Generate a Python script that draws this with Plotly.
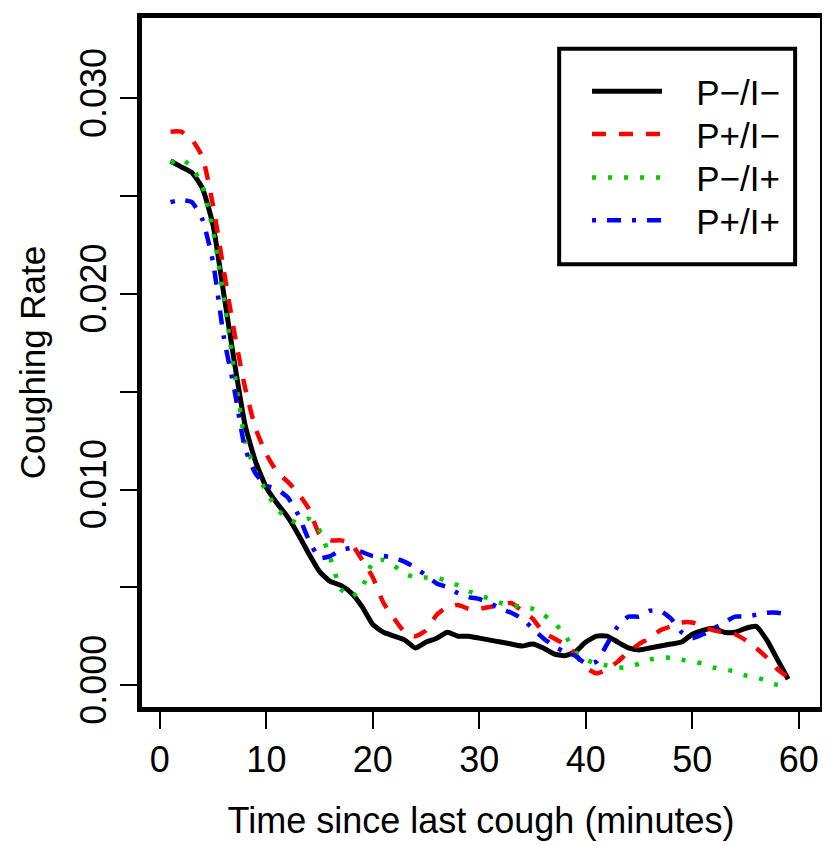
import plotly.graph_objects as go

minutes = list(range(1, 60))

p_minus_i_minus = [0.0268, 0.0265, 0.0262, 0.0254, 0.0235, 0.0200, 0.0165, 0.0133, 0.0114, 0.0101,
                   0.0093, 0.0086, 0.0077, 0.0067, 0.0058, 0.0053, 0.0051, 0.0047, 0.0040, 0.0031,
                   0.0027, 0.0025, 0.0023, 0.0019, 0.0022, 0.0024, 0.0027, 0.0025, 0.0025, 0.0024,
                   0.0023, 0.0022, 0.0021, 0.0020, 0.0021, 0.0019, 0.0016, 0.0015, 0.0017, 0.0022,
                   0.0025, 0.0025, 0.0022, 0.0019, 0.0018, 0.0019, 0.0020, 0.0021, 0.0022, 0.0026,
                   0.0028, 0.0029, 0.0027, 0.0027, 0.0029, 0.0030, 0.0023, 0.0013, 0.0003]

p_plus_i_minus = [0.0283, 0.0283, 0.0279, 0.0270, 0.0245, 0.0212, 0.0180, 0.0152, 0.0131, 0.0118,
                  0.0109, 0.0104, 0.0098, 0.0090, 0.0077, 0.0074, 0.0074, 0.0072, 0.0064, 0.0055,
                  0.0042, 0.0034, 0.0027, 0.0025, 0.0028, 0.0036, 0.0040, 0.0041, 0.0039, 0.0039,
                  0.0040, 0.0041, 0.0042, 0.0038, 0.0034, 0.0027, 0.0024, 0.0021, 0.0016, 0.0009,
                  0.0006, 0.0008, 0.0012, 0.0017, 0.0021, 0.0024, 0.0028, 0.0030, 0.0032, 0.0032,
                  0.0030, 0.0028, 0.0027, 0.0026, 0.0023, 0.0019, 0.0014, 0.0008, 0.0004]

p_minus_i_plus = [0.0267, 0.0269, 0.0265, 0.0255, 0.0232, 0.0198, 0.0160, 0.0125, 0.0109, 0.0099,
                  0.0090, 0.0085, 0.0083, 0.0085, 0.0079, 0.0065, 0.0049, 0.0045, 0.0050, 0.0063,
                  0.0064, 0.0061, 0.0057, 0.0055, 0.0055, 0.0055, 0.0053, 0.0051, 0.0048, 0.0046,
                  0.0044, 0.0042, 0.0041, 0.0040, 0.0039, 0.0036, 0.0032, 0.0026, 0.0017, 0.0013,
                  0.0011, 0.0010, 0.0009, 0.0009, 0.0011, 0.0013, 0.0014, 0.0014, 0.0013, 0.0012,
                  0.0011, 0.0009, 0.0008, 0.0007, 0.0005, 0.0004, 0.0002, 0.0000, -0.0001]

p_plus_i_plus = [0.0247, 0.0248, 0.0247, 0.0238, 0.0216, 0.0178, 0.0151, 0.0121, 0.0108, 0.0102,
                 0.0100, 0.0096, 0.0087, 0.0074, 0.0065, 0.0066, 0.0069, 0.0070, 0.0068, 0.0066,
                 0.0066, 0.0065, 0.0063, 0.0060, 0.0056, 0.0052, 0.0050, 0.0047, 0.0045, 0.0044,
                 0.0042, 0.0039, 0.0037, 0.0034, 0.0029, 0.0024, 0.0020, 0.0017, 0.0015, 0.0011,
                 0.0012, 0.0021, 0.0030, 0.0035, 0.0035, 0.0038, 0.0038, 0.0034, 0.0027, 0.0024,
                 0.0026, 0.0029, 0.0032, 0.0035, 0.0035, 0.0036, 0.0037, 0.0037, 0.0036]

series_names = ["P\u2212/I\u2212", "P+/I\u2212", "P\u2212/I+", "P+/I+"]

x_tick_vals = [0, 10, 20, 30, 40, 50, 60]
x_tick_text = ["0", "10", "20", "30", "40", "50", "60"]
y_tick_vals = [0.000, 0.005, 0.010, 0.015, 0.020, 0.025, 0.030]
y_tick_text = ["0.000", "", "0.010", "", "0.020", "", "0.030"]

x_title = "Time since last cough (minutes)"
y_title = "Coughing Rate"

FONT = "Liberation Sans, Arial, Helvetica, sans-serif"

styles = [
    dict(color="#000000", width=5, dash="solid"),
    dict(color="#FF0000", width=4.5, dash="14px,13px"),
    dict(color="#00CD00", width=4.5, dash="4px,12px"),
    dict(color="#0000FF", width=4.5, dash="4px,11px,14px,11px"),
]

# The page body adds an 8px margin; lay out in screen pixels and subtract it.
OFF = 8
W, H = 830 - OFF, 846 - OFF
PL, PT, PR, PB = 142, 13, 823, 707          # plot area edges in screen pixels
L, T = PL - OFF, PT - OFF
R, B = W - (PR - OFF), H - (PB - OFF)
pw, ph = PR - PL, PB - PT

def px_to_paper(px, py):
    return (px - PL) / pw, (PB - py) / ph

legend_ids = ["legend", "legend2", "legend3", "legend4"]
row_y = [87, 130, 174, 217]
NB = "\u00a0" * 3

fig = go.Figure()
for name, vals, st, lid in zip(series_names,
                               [p_minus_i_minus, p_plus_i_minus, p_minus_i_plus, p_plus_i_plus],
                               styles, legend_ids):
    fig.add_trace(go.Scatter(x=minutes, y=vals, mode="lines", name=NB + name, legend=lid,
                             line=dict(color=st["color"], width=st["width"], dash=st["dash"],
                                       shape="spline", smoothing=0.5)))

lx0, ly0 = px_to_paper(561, 261)
lx1, ly1 = px_to_paper(798, 44)
fig.add_shape(type="rect", xref="paper", yref="paper", x0=lx0, y0=ly0, x1=lx1, y1=ly1,
              line=dict(color="black", width=4), fillcolor="rgba(0,0,0,0)")

legend_layout = {}
for lid, ry in zip(legend_ids, row_y):
    lx, ly = px_to_paper(589, ry)
    legend_layout[lid] = dict(x=lx, y=ly, xanchor="left", yanchor="middle",
                              bgcolor="rgba(0,0,0,0)", borderwidth=0,
                              font=dict(family=FONT, size=35, color="black"),
                              itemwidth=70)

fig.update_layout(
    width=W, height=H,
    margin=dict(l=L, r=R, t=T, b=B, pad=0),
    paper_bgcolor="white", plot_bgcolor="white",
    font=dict(family=FONT, size=36, color="black"),
    showlegend=True,
    xaxis=dict(range=[-1.68, 61.99], tickmode="array", tickvals=x_tick_vals, ticktext=x_tick_text,
               ticks="outside", ticklen=17, tickwidth=2, tickcolor="black",
               showline=True, linewidth=5, linecolor="black", mirror=True,
               showgrid=False, zeroline=False,
               tickfont=dict(family=FONT, size=36),
               title=dict(text=x_title, font=dict(family=FONT, size=36), standoff=30)),
    yaxis=dict(range=[-0.00112, 0.03411], tickmode="array", tickvals=y_tick_vals, ticktext=y_tick_text,
               ticks="outside", ticklen=17, tickwidth=2, tickcolor="black",
               showline=True, linewidth=5, linecolor="black", mirror=True,
               showgrid=False, zeroline=False, tickangle=-90,
               tickfont=dict(family=FONT, size=36),
               title=dict(text=y_title, font=dict(family=FONT, size=35), standoff=18)),
    **legend_layout,
)

fig.write_html("out.html")
